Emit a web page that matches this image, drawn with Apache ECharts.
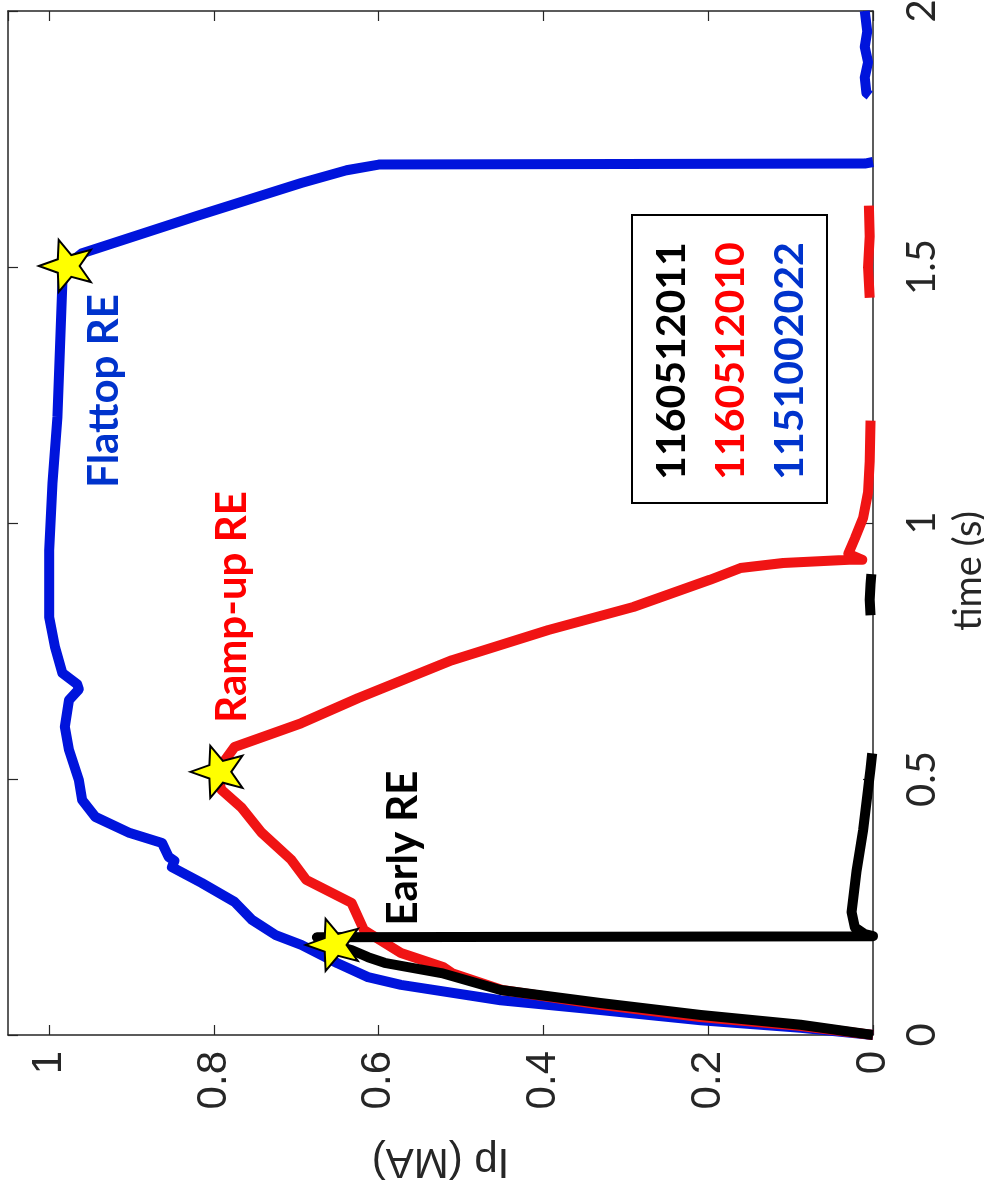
<!DOCTYPE html>
<html>
<head>
<meta charset="utf-8">
<script src="https://cdn.jsdelivr.net/npm/echarts@6/dist/echarts.min.js"></script>
<style>
html,body{margin:0;padding:0;background:#fff;}
#c{width:984px;height:1199px;}
</style>
</head>
<body>
<div id="c"></div>
<script>
// ---- data (Ip in MA, time in s) ----
const blueT  = [0,0.014,0.029,0.049,0.068,0.098,0.113,0.14,0.176,0.195,0.225,0.26,0.297,0.328,0.34,0.348,0.375,0.395,0.426,0.459,0.498,0.557,0.602,0.654,0.675,0.685,0.707,0.758,0.816,0.947,1.078,1.207,1.338,1.469,1.5,1.527,1.6,1.664,1.689,1.70,1.702,1.705,null,1.835,1.84,1.87,1.9,1.93,1.96,2.0];
const blueIp = [0,0.088,0.209,0.331,0.452,0.573,0.613,0.65,0.694,0.725,0.754,0.775,0.815,0.851,0.848,0.855,0.863,0.903,0.944,0.960,0.964,0.976,0.981,0.976,0.964,0.966,0.984,0.993,1.0,1.0,0.996,0.990,0.987,0.984,0.981,0.960,0.82,0.694,0.639,0.60,0.01,0,null,0.004,0.008,0.01,0.006,0.01,0.007,0.01];

const redT  = [0,0.018,0.035,0.059,0.088,0.12,0.133,0.16,0.205,0.258,0.303,0.342,0.395,0.445,0.479,0.514,0.5625,0.609,0.658,0.732,0.791,0.836,0.889,0.912,0.922,0.928,0.928,0.94,0.97,1.01,1.06,1.12,1.2,null,1.44,1.5,1.56,1.62];
const redIp = [0,0.09,0.21,0.33,0.45,0.51,0.522,0.573,0.618,0.633,0.688,0.706,0.742,0.767,0.791,0.797,0.775,0.694,0.625,0.511,0.394,0.291,0.198,0.161,0.109,0.029,0.013,0.03,0.022,0.012,0.006,0.004,0.003,null,0.004,0.006,0.004,0.005];

const blackT  = [0,0.02,0.039,0.0625,0.088,0.121,0.141,0.152,0.166,0.176,0.191,0.193,0.197,0.21,0.24,0.28,0.32,0.36,0.40,0.44,0.48,0.52,0.55,null,0.82,0.85,0.88,0.90];
const blackIp = [0,0.088,0.209,0.331,0.452,0.524,0.593,0.613,0.633,0.657,0.675,0,0.01,0.022,0.026,0.023,0.02,0.016,0.012,0.009,0.006,0.003,0.001,null,0.003,0.004,0.003,0.002];

const starT  = [0.176, 0.514, 1.502];
const starIp = [0.657, 0.797, 0.981];

const shotLabels = ['1160512011', '1160512010', '1151002022'];
const shotColors = ['#000000', '#FF0000', '#0033CC'];
const annotations = ['Early RE', 'Ramp-up RE', 'Flattop RE'];

function pairs(ip, t) {
  return ip.map((v, i) => (v === null || t[i] === null) ? ['-', '-'] : [v, t[i]]);
}

// star pointing left (figure rotated)
function starPath() {
  const pts = [];
  for (let k = 0; k < 10; k++) {
    const a = Math.PI + k * Math.PI / 5;
    const r = (k % 2 === 0) ? 50 : 21;
    pts.push((50 + r * Math.cos(a)).toFixed(2) + ',' + (50 + r * Math.sin(a)).toFixed(2));
  }
  return 'path://M' + pts.join('L') + 'Z';
}

const chart = echarts.init(document.getElementById('c'), null, {renderer: 'canvas'});
const axisColor = '#262626';
const lineW = 10;

const option = {
  backgroundColor: '#ffffff',
  animation: false,
  grid: {left: 8, right: 111, top: 11, bottom: 164, containLabel: false, outerBoundsMode: 'none'},
  xAxis: [{
    type: 'value', min: 0, max: 1.05, interval: 0.2, inverse: true, position: 'bottom',
    axisLine: {show: true, onZero: false, lineStyle: {color: axisColor, width: 1.5}},
    axisTick: {show: true, inside: true, length: 10, lineStyle: {color: axisColor, width: 1.2}},
    splitLine: {show: false},
    axisLabel: {rotate: 90, margin: 16, showMaxLabel: false, color: '#262626',
      fontFamily: 'Liberation Sans', fontSize: 42},
    name: 'Ip (MA)', nameLocation: 'middle', nameGap: 105, nameRotate: 180,
    nameTextStyle: {fontFamily: 'Liberation Sans', fontSize: 42, color: '#262626'}
  }, {
    type: 'value', min: 0, max: 1.05, interval: 0.2, inverse: true, position: 'top',
    axisLine: {show: true, onZero: false, lineStyle: {color: axisColor, width: 1.5}},
    axisTick: {show: true, inside: true, length: 10, lineStyle: {color: axisColor, width: 1.2}},
    splitLine: {show: false}, axisLabel: {show: false}
  }],
  yAxis: [{
    type: 'value', min: 0, max: 2, interval: 0.5, position: 'right',
    axisLine: {show: true, onZero: false, lineStyle: {color: axisColor, width: 1.5}},
    axisTick: {show: true, inside: true, length: 10, lineStyle: {color: axisColor, width: 1.2}},
    splitLine: {show: false},
    axisLabel: {rotate: 90, margin: 29, color: '#262626', fontFamily: 'Lato', fontSize: 40},
    name: 'time (s)', nameLocation: 'middle', nameGap: 66, nameRotate: 90,
    nameTextStyle: {fontFamily: 'Lato', fontSize: 38, color: '#262626', padding: [0, 96, 0, 0]}
  }, {
    type: 'value', min: 0, max: 2, interval: 0.5, position: 'left',
    axisLine: {show: true, onZero: false, lineStyle: {color: axisColor, width: 1.5}},
    axisTick: {show: true, inside: true, length: 10, lineStyle: {color: axisColor, width: 1.2}},
    splitLine: {show: false}, axisLabel: {show: false}
  }],
  series: [{
    name: shotLabels[2], type: 'line', data: pairs(blueIp, blueT), showSymbol: false, symbol: 'none',
    lineStyle: {color: '#0014DC', width: lineW, join: 'round'}, z: 2
  }, {
    name: shotLabels[1], type: 'line', data: pairs(redIp, redT), showSymbol: false, symbol: 'none',
    lineStyle: {color: '#F01414', width: lineW, join: 'round'}, z: 3
  }, {
    name: shotLabels[0], type: 'line', data: pairs(blackIp, blackT), showSymbol: false, symbol: 'none',
    lineStyle: {color: '#000000', width: lineW, join: 'round'}, z: 4
  }, {
    name: 'stars', type: 'scatter', data: pairs(starIp, starT), symbol: starPath(), symbolSize: 52,
    itemStyle: {color: '#FFFF00', opacity: 1, borderColor: '#000000', borderWidth: 2}, z: 10
  }],
  graphic: [
    {type: 'rect', shape: {x: 632, y: 215, width: 195, height: 288},
      style: {fill: '#ffffff', stroke: '#000000', lineWidth: 2}, z: 20},
    {type: 'text', x: 672, y: 361, rotation: Math.PI / 2, z: 21,
      style: {text: shotLabels[0], fill: shotColors[0], font: 'bold 41px Lato', align: 'center', verticalAlign: 'middle'}},
    {type: 'text', x: 731, y: 361, rotation: Math.PI / 2, z: 21,
      style: {text: shotLabels[1], fill: shotColors[1], font: 'bold 41px Lato', align: 'center', verticalAlign: 'middle'}},
    {type: 'text', x: 790, y: 361, rotation: Math.PI / 2, z: 21,
      style: {text: shotLabels[2], fill: shotColors[2], font: 'bold 41px Lato', align: 'center', verticalAlign: 'middle'}},
    {type: 'text', x: 403, y: 848, rotation: Math.PI / 2, z: 21,
      style: {text: annotations[0], fill: '#000000', font: 'bold 42px Lato', align: 'center', verticalAlign: 'middle'}},
    {type: 'text', x: 232, y: 607, rotation: Math.PI / 2, z: 21,
      style: {text: annotations[1], fill: '#FF0000', font: 'bold 42px Lato', align: 'center', verticalAlign: 'middle'}},
    {type: 'text', x: 104, y: 391, rotation: Math.PI / 2, z: 21,
      style: {text: annotations[2], fill: '#0033CC', font: 'bold 42px Lato', align: 'center', verticalAlign: 'middle'}}
  ]
};
chart.setOption(option);
</script>
</body>
</html>
